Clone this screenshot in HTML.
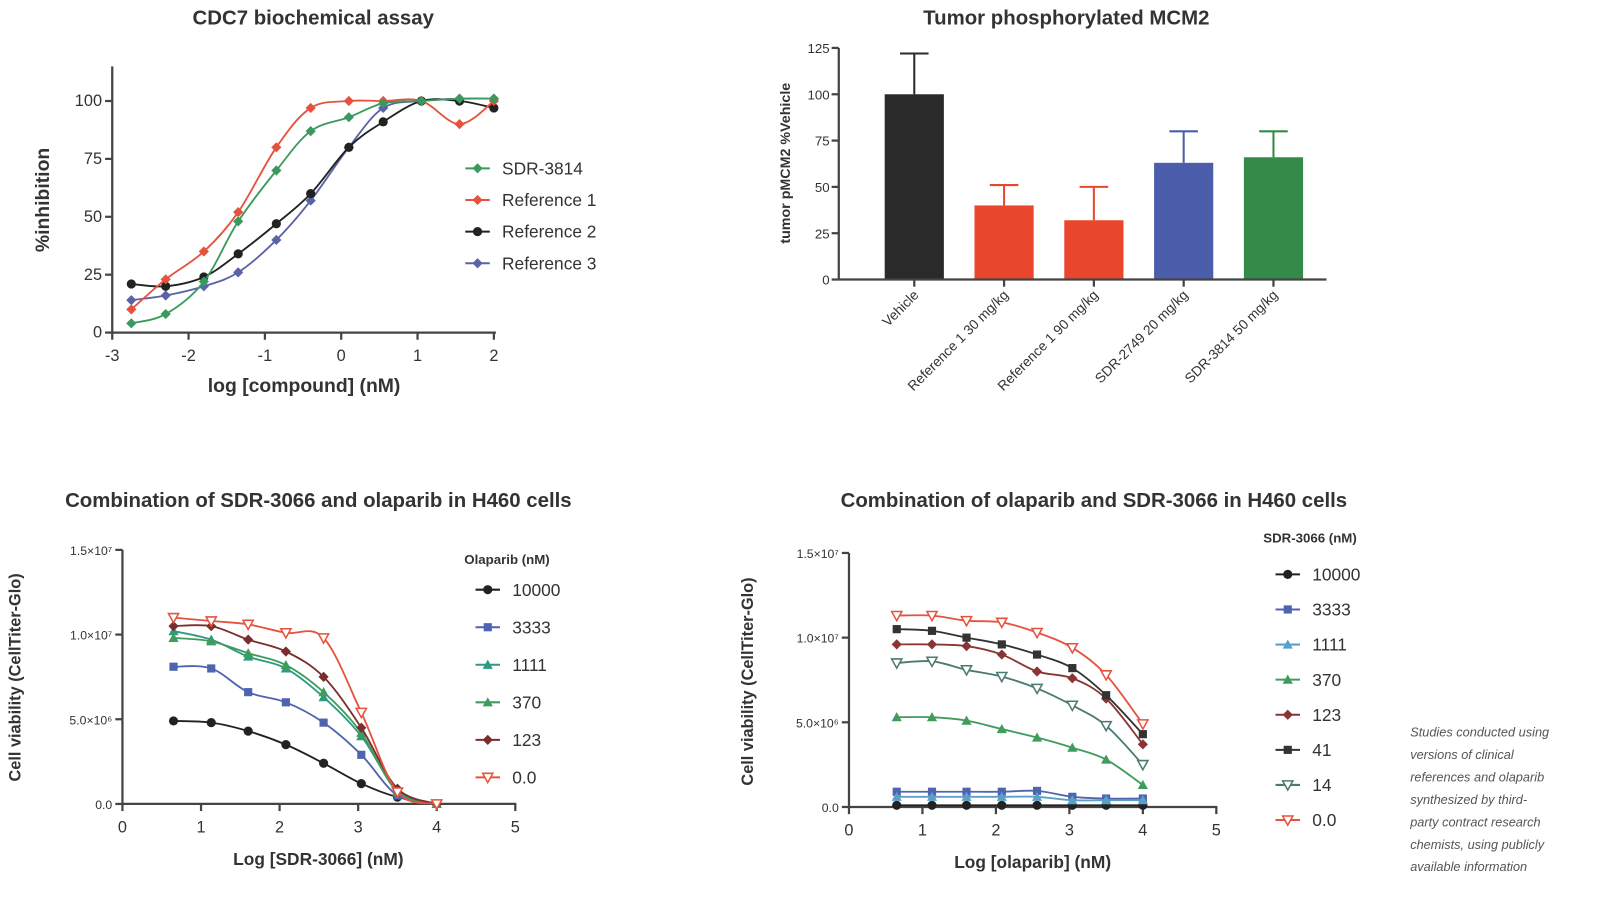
<!DOCTYPE html>
<html><head><meta charset="utf-8">
<style>
html,body{margin:0;padding:0;background:#fff;}
body{width:1600px;height:909px;overflow:hidden;font-family:"Liberation Sans",sans-serif;}
svg text{font-family:"Liberation Sans",sans-serif;fill:#333;}
</style></head>
<body>
<svg id="fig" width="1600" height="909" viewBox="0 0 1568 891" preserveAspectRatio="none" xmlns="http://www.w3.org/2000/svg">
<g id="p1"></g>
<g id="p2"></g>
<g id="p3"></g>
<g id="p4"></g>
<g font-style="italic" font-size="12.5" fill="#555">
<text x="1382" y="722" style="fill:#555">Studies conducted using</text>
<text x="1382" y="744" style="fill:#555">versions of clinical</text>
<text x="1382" y="766" style="fill:#555">references and olaparib</text>
<text x="1382" y="788" style="fill:#555">synthesized by third-</text>
<text x="1382" y="810" style="fill:#555">party contract research</text>
<text x="1382" y="832" style="fill:#555">chemists, using publicly</text>
<text x="1382" y="854" style="fill:#555">available information</text>
</g>
</svg>
<script>
// ---------- Panel 1 data ----------
const p1X = [-2.75,-2.3,-1.8,-1.35,-0.85,-0.4,0.1,0.55,1.05,1.55,2.0];
const p1SDR3814 = [4,8,22,48,70,87,93,99,100,101,101];
const p1Ref1 = [10,23,35,52,80,97,100,100,100,90,100];
const p1Ref2 = [21,20,24,34,47,60,80,91,100,100,97];
const p1Ref3 = [14,16,20,26,40,57,80,97,100,101,101];
const p1Names = ["SDR-3814","Reference 1","Reference 2","Reference 3"];
const p1XTicks = [-3,-2,-1,0,1,2];
const p1YTicks = [0,25,50,75,100];
// ---------- Panel 2 data ----------
const p2Cats = ["Vehicle","Reference 1 30 mg/kg","Reference 1 90 mg/kg","SDR-2749 20 mg/kg","SDR-3814 50 mg/kg"];
const p2Vals = [100,40,32,63,66];
const p2Err = [22,11,18,17,14];
const p2YTicks = [0,25,50,75,100,125];
// ---------- Panel 3 data (x1e6) ----------
const p3X = [0.65,1.13,1.6,2.08,2.56,3.04,3.5,4.0];
const p3S10000 = [4.9,4.8,4.3,3.5,2.4,1.2,0.4,0.0];
const p3S3333 = [8.1,8.0,6.6,6.0,4.8,2.9,0.5,0.0];
const p3S1111 = [10.2,9.7,8.7,8.0,6.3,4.0,0.8,0.0];
const p3S370 = [9.8,9.6,8.9,8.2,6.6,4.2,0.7,0.0];
const p3S123 = [10.5,10.5,9.7,9.0,7.5,4.5,0.9,0.0];
const p3S0 = [11.0,10.8,10.6,10.1,9.8,5.4,0.7,0.0];
const p3Names = ["10000","3333","1111","370","123","0.0"];
// ---------- Panel 4 data (x1e6) ----------
const p4X = [0.65,1.13,1.6,2.08,2.56,3.04,3.5,4.0];
const p4S10000 = [0.1,0.1,0.1,0.1,0.1,0.1,0.1,0.1];
const p4S3333 = [0.9,0.9,0.9,0.9,0.95,0.6,0.5,0.5];
const p4S1111 = [0.6,0.6,0.6,0.6,0.6,0.4,0.4,0.4];
const p4S370 = [5.3,5.3,5.1,4.6,4.1,3.5,2.8,1.3];
const p4S123 = [9.6,9.6,9.5,9.0,8.0,7.6,6.4,3.7];
const p4S41 = [10.5,10.4,10.0,9.6,9.0,8.2,6.6,4.3];
const p4S14 = [8.5,8.6,8.1,7.7,7.0,6.0,4.8,2.5];
const p4S0 = [11.3,11.3,11.0,10.9,10.3,9.4,7.8,4.9];
const p4Names = ["10000","3333","1111","370","123","41","14","0.0"];
const vTicks = [0,5,10,15];
const vTickLabels = ["0.0","5.0×10⁶","1.0×10⁷","1.5×10⁷"];
const cTicks = [0,1,2,3,4,5];

const NS="http://www.w3.org/2000/svg";
function mk(parent,tag,attrs,txt){const e=document.createElementNS(NS,tag);for(const k in attrs)e.setAttribute(k,attrs[k]);if(txt!==undefined)e.textContent=txt;parent.appendChild(e);return e;}
function smooth(pts){let d="M"+pts[0][0]+","+pts[0][1];for(let i=0;i<pts.length-1;i++){const p0=pts[i-1]||pts[i],p1=pts[i],p2=pts[i+1],p3=pts[i+2]||p2;const c1=[p1[0]+(p2[0]-p0[0])/6,p1[1]+(p2[1]-p0[1])/6],c2=[p2[0]-(p3[0]-p1[0])/6,p2[1]-(p3[1]-p1[1])/6];d+=" C"+c1+" "+c2+" "+p2;}return d;}
function marker(g,shape,x,y,c){
  let e;
  if(shape==="sq") e=mk(g,"rect",{x:x-4,y:y-4,width:8,height:8,fill:c});
  else if(shape==="tri") e=mk(g,"path",{d:`M${x},${y-5}L${x+5},${y+4}L${x-5},${y+4}Z`,fill:c});
  else if(shape==="tridown") e=mk(g,"path",{d:`M${x-5},${y-4}L${x+5},${y-4}L${x},${y+5}Z`,fill:"#fff",stroke:c,"stroke-width":1.5});
  else if(shape==="dia") e=mk(g,"path",{d:`M${x},${y-5}L${x+5},${y}L${x},${y+5}L${x-5},${y}Z`,fill:c});
  else e=mk(g,"circle",{cx:x,cy:y,r:4.5,fill:c});
  
  
  return e;
}
function series(g,xs,ys,sx,sy,c,shape,name){
  const sg=mk(g,"g",{});
  
  
  const pts=xs.map((x,i)=>[sx(x),sy(ys[i])]);
  const p=mk(sg,"path",{d:smooth(pts),fill:"none",stroke:c,"stroke-width":1.8});
  
  
  pts.forEach(q=>marker(sg,shape,q[0],q[1],c));
}
function axes(g,o){
  const ax=mk(g,"g",{stroke:"#444","stroke-width":2.2,fill:"none"});
  
  
  mk(ax,"line",{x1:o.x0,y1:o.y0,x2:o.x0,y2:o.yTop});
  mk(ax,"line",{x1:o.x0,y1:o.y0,x2:o.xEnd,y2:o.y0});
  o.xt.forEach(v=>{const x=o.sx(v);mk(ax,"line",{x1:x,y1:o.y0,x2:x,y2:o.y0+7});
    const t=mk(g,"text",{x:x,y:o.y0+28,"text-anchor":"middle","font-size":16},String(v));});
  o.yt.forEach((v,i)=>{const y=o.sy(v);mk(ax,"line",{x1:o.x0-7,y1:y,x2:o.x0,y2:y});
    const t=mk(g,"text",{x:o.x0-10,y:y+5,"text-anchor":"end","font-size":o.yfs||16},o.yl?o.yl[i]:String(v));});
}
function legendEntry(g,x,y,c,shape,label,fs){
  const lg=mk(g,"g",{});
  
  
  mk(lg,"line",{x1:x,y1:y,x2:x+24,y2:y,stroke:c,"stroke-width":2});
  marker(lg,shape,x+12,y,c);
  mk(lg,"text",{x:x+36,y:y+6,"font-size":fs||17},label);
}

// ===== Panel 1 =====
(function(){
  const g=document.getElementById("p1");
  const sx=v=>110+(v+3)*74.8, sy=v=>326-v*2.27;
  const t=mk(g,"text",{x:307,y:24,"text-anchor":"middle","font-size":20,"font-weight":"bold"},"CDC7 biochemical assay");
  
  axes(g,{x0:110,y0:326,yTop:65,xEnd:486,sx,sy,xt:p1XTicks,yt:p1YTicks});
  const xt=mk(g,"text",{x:298,y:384,"text-anchor":"middle","font-size":19,"font-weight":"bold"},"log [compound] (nM)");
  
  const yt=mk(g,"text",{x:0,y:0,"text-anchor":"middle","font-size":19,"font-weight":"bold",transform:"translate(48,196) rotate(-90)"},"%inhibition");
  
  const cols=["#3a9a5e","#e5533f","#222","#5b63a8"], sh=["dia","dia","circ","dia"];
  [p1Ref3,p1Ref2,p1Ref1,p1SDR3814].forEach((s,i)=>{const k=3-i;series(g,p1X,s,sx,sy,cols[k],sh[k],p1Names[k]);});
  p1Names.forEach((n,i)=>legendEntry(g,456,165+i*31,cols[i],sh[i],n,17));
})();

// ===== Panel 2 =====
(function(){
  const g=document.getElementById("p2");
  const sy=v=>274-v*1.816, cx=i=>896+i*88;
  const t=mk(g,"text",{x:1045,y:24,"text-anchor":"middle","font-size":20,"font-weight":"bold"},"Tumor phosphorylated MCM2");
  
  const cols=["#2a2a2a","#e9472d","#e9472d","#4c5eab","#348a48"];
  p2Cats.forEach((c,i)=>{
    const x=cx(i), y=sy(p2Vals[i]);
    const eb=mk(g,"path",{d:`M${x},${y}V${sy(p2Vals[i]+p2Err[i])}M${x-14},${sy(p2Vals[i]+p2Err[i])}H${x+14}`,stroke:cols[i],"stroke-width":2,fill:"none"});
    
    const r=mk(g,"rect",{x:x-29,y:y,width:58,height:274-y,fill:cols[i]});
    
    const l=mk(g,"text",{x:0,y:0,"text-anchor":"end","font-size":13.5,transform:`translate(${x+5},${290}) rotate(-45)`},c);
    
  });
  const ax=mk(g,"g",{stroke:"#444","stroke-width":2.2});
  
  mk(ax,"line",{x1:822,y1:274,x2:822,y2:sy(125)});
  mk(ax,"line",{x1:822,y1:274,x2:1300,y2:274});
  p2Cats.forEach((c,i)=>mk(ax,"line",{x1:cx(i),y1:274,x2:cx(i),y2:281}));
  p2YTicks.forEach(v=>{mk(ax,"line",{x1:815,y1:sy(v),x2:822,y2:sy(v)});
    const t=mk(g,"text",{x:813,y:sy(v)+5,"text-anchor":"end","font-size":13},String(v));});
  const yt=mk(g,"text",{x:0,y:0,"text-anchor":"middle","font-size":14,"font-weight":"bold",transform:"translate(774,160) rotate(-90)"},"tumor pMCM2 %Vehicle");
  
})();

// ===== Panel 3 =====
(function(){
  const g=document.getElementById("p3");
  const sx=v=>120+v*77, sy=v=>788-v*16.6;
  const t=mk(g,"text",{x:312,y:497,"text-anchor":"middle","font-size":20,"font-weight":"bold"},"Combination of SDR-3066 and olaparib in H460 cells");
  
  axes(g,{x0:120,y0:788,yTop:539,xEnd:506,sx,sy,xt:cTicks,yt:vTicks,yl:vTickLabels,yfs:12});
  const xt=mk(g,"text",{x:312,y:848,"text-anchor":"middle","font-size":17,"font-weight":"bold"},"Log [SDR-3066] (nM)");
  
  const yt=mk(g,"text",{x:0,y:0,"text-anchor":"middle","font-size":16,"font-weight":"bold",transform:"translate(20,664) rotate(-90)"},"Cell viability (CellTiter-Glo)");
  
  const cols=["#222","#4f64ae","#2f9a82","#3f9c5c","#7a2e2e","#e5533f"], sh=["circ","sq","tri","tri","dia","tridown"];
  const ser=[p3S10000,p3S3333,p3S1111,p3S370,p3S123,p3S0];
  ser.forEach((s,i)=>series(g,p3X,s,sx,sy,cols[i],sh[i],p3Names[i]));
  const lt=mk(g,"text",{x:455,y:553,"font-size":13,"font-weight":"bold"},"Olaparib (nM)");
  
  p3Names.forEach((n,i)=>legendEntry(g,466,578+i*36.8,cols[i],sh[i],n,17));
})();

// ===== Panel 4 =====
(function(){
  const g=document.getElementById("p4");
  const sx=v=>832+v*72, sy=v=>791-v*16.6;
  const t=mk(g,"text",{x:1072,y:497,"text-anchor":"middle","font-size":20,"font-weight":"bold"},"Combination of olaparib and SDR-3066 in H460 cells");
  
  axes(g,{x0:832,y0:791,yTop:542,xEnd:1193,sx,sy,xt:cTicks,yt:vTicks,yl:vTickLabels,yfs:12});
  const xt=mk(g,"text",{x:1012,y:851,"text-anchor":"middle","font-size":17,"font-weight":"bold"},"Log [olaparib] (nM)");
  
  const yt=mk(g,"text",{x:0,y:0,"text-anchor":"middle","font-size":16,"font-weight":"bold",transform:"translate(738,668) rotate(-90)"},"Cell viability (CellTiter-Glo)");
  
  const cols=["#222","#4f64ae","#5aa0c8","#3f9c5c","#8a3535","#333","#4a7a70","#e5533f"], sh=["circ","sq","tri","tri","dia","sq","tridown","tridown"];
  const ser=[p4S10000,p4S3333,p4S1111,p4S370,p4S123,p4S41,p4S14,p4S0];
  ser.forEach((s,i)=>series(g,p4X,s,sx,sy,cols[i],sh[i],p4Names[i]));
  const lt=mk(g,"text",{x:1238,y:532,"font-size":13,"font-weight":"bold"},"SDR-3066 (nM)");
  
  p4Names.forEach((n,i)=>legendEntry(g,1250,563+i*34.4,cols[i],sh[i],n,17));
})();
</script>
</body></html>
